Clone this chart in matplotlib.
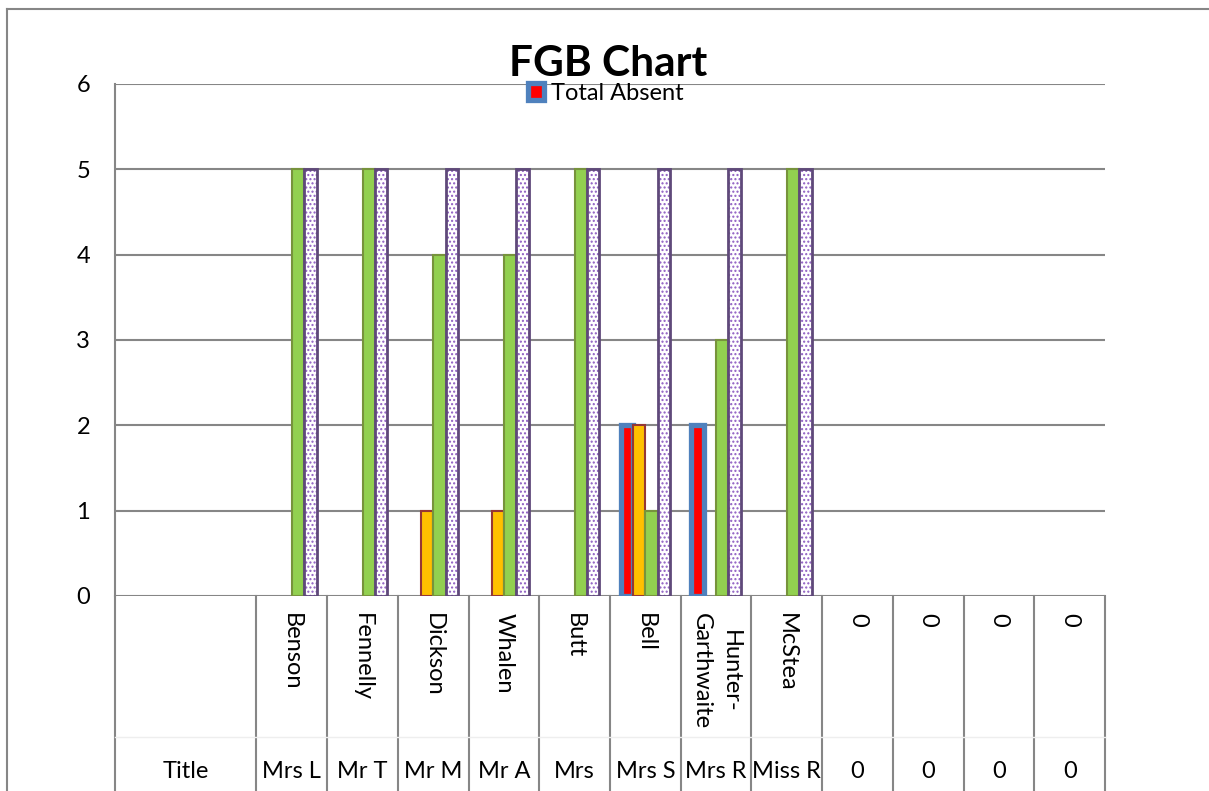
import matplotlib.pyplot as plt
from matplotlib.patches import Rectangle
from matplotlib.lines import Line2D

plt.rcParams['font.family'] = ['Lato', 'DejaVu Sans']

names = ["", "", "Benson", "Fennelly", "Dickson", "Whalen", "Butt", "Bell",
         "Hunter-\nGarthwaite", "McStea", "0", "0", "0", "0"]
titles = ["Mrs L", "Mr T", "Mr M", "Mr A", "Mrs", "Mrs S", "Mrs R", "Miss R",
          "0", "0", "0", "0"]
total_absent = [0, 0, 0, 0, 0, 0, 0, 2, 2, 0, 0, 0, 0, 0]
series_orange = [0, 0, 0, 0, 1, 1, 0, 2, 0, 0, 0, 0, 0, 0]
series_green = [0, 0, 5, 5, 4, 4, 5, 1, 3, 5, 0, 0, 0, 0]
series_purple = [0, 0, 5, 5, 5, 5, 5, 5, 5, 5, 0, 0, 0, 0]

grid_col = "#868686"
fs = 17
fig = plt.figure(figsize=(12.09, 7.91), dpi=100)
W, H = 1209, 791
ax = fig.add_axes([115 / W, 1 - 596 / H, (1105 - 115) / W, (596 - 84) / H])

n = len(names)
b = 0.175


def nonzero(vals, off):
    xs = [i + off for i, v in enumerate(vals) if v]
    hs = [v for v in vals if v]
    return xs, hs


xs, hs = nonzero(total_absent, -1.5 * b)
ax.bar(xs, hs, b, color="#FF0000", edgecolor="#4F81BD", linewidth=3.8, zorder=3)
xs, hs = nonzero(series_orange, -0.5 * b)
ax.bar(xs, hs, b, color="#FFC000", edgecolor="#953735", linewidth=1.5, zorder=3)
xs, hs = nonzero(series_green, 0.5 * b)
ax.bar(xs, hs, b, color="#92D050", edgecolor="#77933C", linewidth=1.5, zorder=3)
plt.rcParams['hatch.color'] = "#8E5CC2"
plt.rcParams['hatch.linewidth'] = 1.0
xs, hs = nonzero(series_purple, 1.5 * b)
ax.bar(xs, hs, b, color="white", edgecolor="#8E5CC2", linewidth=0, hatch="....", zorder=3)
ax.bar(xs, hs, b, color="none", edgecolor="#5F497A", linewidth=2, zorder=4)

ax.set_xlim(-0.5, n - 0.5)
ax.set_ylim(0, 6)
ax.set_yticks(range(7))
ax.set_xticks([])
ax.grid(axis="y", color=grid_col, linewidth=1.5, zorder=0)
for s in ["top", "right", "bottom"]:
    ax.spines[s].set_visible(False)
ax.spines["left"].set_color(grid_col)
ax.spines["left"].set_linewidth(1.5)
ax.tick_params(axis="y", length=0, pad=18, labelsize=fs)

# category table below the axis
trans = ax.get_xaxis_transform()
ax.plot([-0.5, -0.5], [0, -0.5], color=grid_col, lw=1.5, transform=trans, clip_on=False)
for k in range(2, n + 1):
    ax.plot([k - 0.5, k - 0.5], [0, -0.5], color=grid_col, lw=1.5,
            transform=trans, clip_on=False)
y_sep = (596 - 737) / (596 - 84)
ax.plot([-0.5, n - 0.5], [y_sep, y_sep], color="#eeeeee", lw=1,
        transform=trans, clip_on=False)

y_name = (596 - 613) / (596 - 84)
for i, nm in enumerate(names):
    if nm:
        ax.text(i, y_name, nm, rotation=270, ha="center", va="top",
                multialignment="center", fontsize=fs, transform=trans,
                linespacing=1.45)
y_title = (596 - 771) / (596 - 84)
ax.text(0.5, y_title, "Title", ha="center", va="center", fontsize=fs, transform=trans)
for i, t in enumerate(titles):
    ax.text(i + 2, y_title, t, ha="center", va="center", fontsize=fs, transform=trans)

# chart border (cut at right/bottom)
fig.add_artist(Line2D([7 / W, 1.0], [1 - 9 / H, 1 - 9 / H], color=grid_col, lw=1.5))
fig.add_artist(Line2D([7 / W, 7 / W], [1 - 9 / H, 0], color=grid_col, lw=1.5))

fig.text(608 / W, 1 - 76 / H, "FGB Chart", ha="center", va="baseline",
         fontsize=30.5, fontweight="bold")

leg = ax.legend(handles=[Rectangle((0, 0), 1, 1, facecolor="#FF0000",
                                   edgecolor="#4F81BD", linewidth=3.8)],
                labels=["Total Absent"], loc="center", bbox_to_anchor=(606 / W, 1 - 93 / H),
                bbox_transform=fig.transFigure, frameon=False, fontsize=fs,
                handlelength=0.7, handleheight=0.7, handletextpad=0.3,
                borderpad=0, borderaxespad=0)

fig.savefig("out.png", dpi=100)
